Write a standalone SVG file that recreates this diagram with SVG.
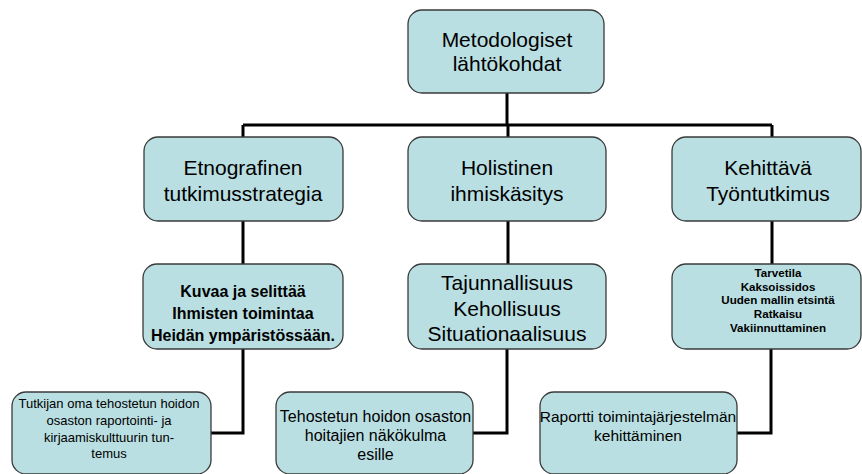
<svg xmlns="http://www.w3.org/2000/svg" width="862" height="474" viewBox="0 0 862 474">
<style>
.box{fill:#b9dfe2;stroke:#3a3a3a;stroke-width:1.3}
.t{font-family:"Liberation Sans",Arial,sans-serif;fill:#000;text-anchor:middle}
.r21{font-size:21px}
.b16{font-size:16px;font-weight:bold}
.b12{font-size:11.6px;font-weight:bold}
.r13{font-size:13px}
.r16{font-size:16px}
.r155{font-size:15.5px}
.c{fill:none;stroke:#000;stroke-width:3}
</style>
<g id="connectors">
<path class="c" d="M507 93V125M243 125H772M243 125V137M508 125V137M772 125V137"/>
<path class="c" d="M243 221V264M508 221V264M772 221V264"/>
<path class="c" d="M243 349V433H211M507 349V433H473M771 349V433H737"/>
</g>
<g id="n-root">
<rect class="box" x="408" y="10" width="196" height="83" rx="14"/>
<text class="t r21" x="507" y="47">Metodologiset</text>
<text class="t r21" x="507" y="71">lähtökohdat</text>
</g>
<g id="n-etno">
<rect class="box" x="144" y="137" width="199" height="84" rx="14"/>
<text class="t r21" x="243" y="175">Etnografinen</text>
<text class="t r21" x="243" y="201">tutkimusstrategia</text>
</g>
<g id="n-holi">
<rect class="box" x="408" y="137" width="198" height="84" rx="14"/>
<text class="t r21" x="507" y="175">Holistinen</text>
<text class="t r21" x="507" y="201">ihmiskäsitys</text>
</g>
<g id="n-kehi">
<rect class="box" x="672" y="137" width="189" height="84" rx="14"/>
<text class="t r21" x="768" y="175">Kehittävä</text>
<text class="t r21" x="768" y="201">Työntutkimus</text>
</g>
<g id="n-kuvaa">
<rect class="box" x="143" y="264" width="200" height="85" rx="14"/>
<text class="t b16" x="243" y="297">Kuvaa ja selittää</text>
<text class="t b16" x="243" y="319">Ihmisten toimintaa</text>
<text class="t b16" x="243" y="341">Heidän ympäristössään.</text>
</g>
<g id="n-taju">
<rect class="box" x="408" y="264" width="198" height="85" rx="14"/>
<text class="t r21" x="507" y="290">Tajunnallisuus</text>
<text class="t r21" x="507" y="315.5">Kehollisuus</text>
<text class="t r21" x="507" y="341">Situationaalisuus</text>
</g>
<g id="n-tarve">
<rect class="box" x="672" y="264" width="189" height="85" rx="14"/>
<text class="t b12" x="778" y="277">Tarvetila</text>
<text class="t b12" x="778" y="290.7">Kaksoissidos</text>
<text class="t b12" x="778" y="304.4">Uuden mallin etsintä</text>
<text class="t b12" x="778" y="318">Ratkaisu</text>
<text class="t b12" x="778" y="331.7">Vakiinnuttaminen</text>
</g>
<g id="n-tutkijan">
<rect class="box" x="12" y="392" width="199" height="82" rx="14"/>
<text class="t r13" x="109" y="408">Tutkijan oma tehostetun hoidon</text>
<text class="t r13" x="109" y="425">osaston raportointi- ja</text>
<text class="t r13" x="109" y="441.5">kirjaamiskulttuurin tun-</text>
<text class="t r13" x="109" y="458">temus</text>
</g>
<g id="n-tehost">
<rect class="box" x="276" y="392" width="197" height="82" rx="14"/>
<text class="t r16" x="375.5" y="422">Tehostetun hoidon osaston</text>
<text class="t r16" x="375.5" y="441">hoitajien näkökulma</text>
<text class="t r16" x="375.5" y="460">esille</text>
</g>
<g id="n-raportti">
<rect class="box" x="540" y="392" width="197" height="82" rx="14"/>
<text class="t r155" x="638" y="422">Raportti toimintajärjestelmän</text>
<text class="t r155" x="638" y="441">kehittäminen</text>
</g>
</svg>
